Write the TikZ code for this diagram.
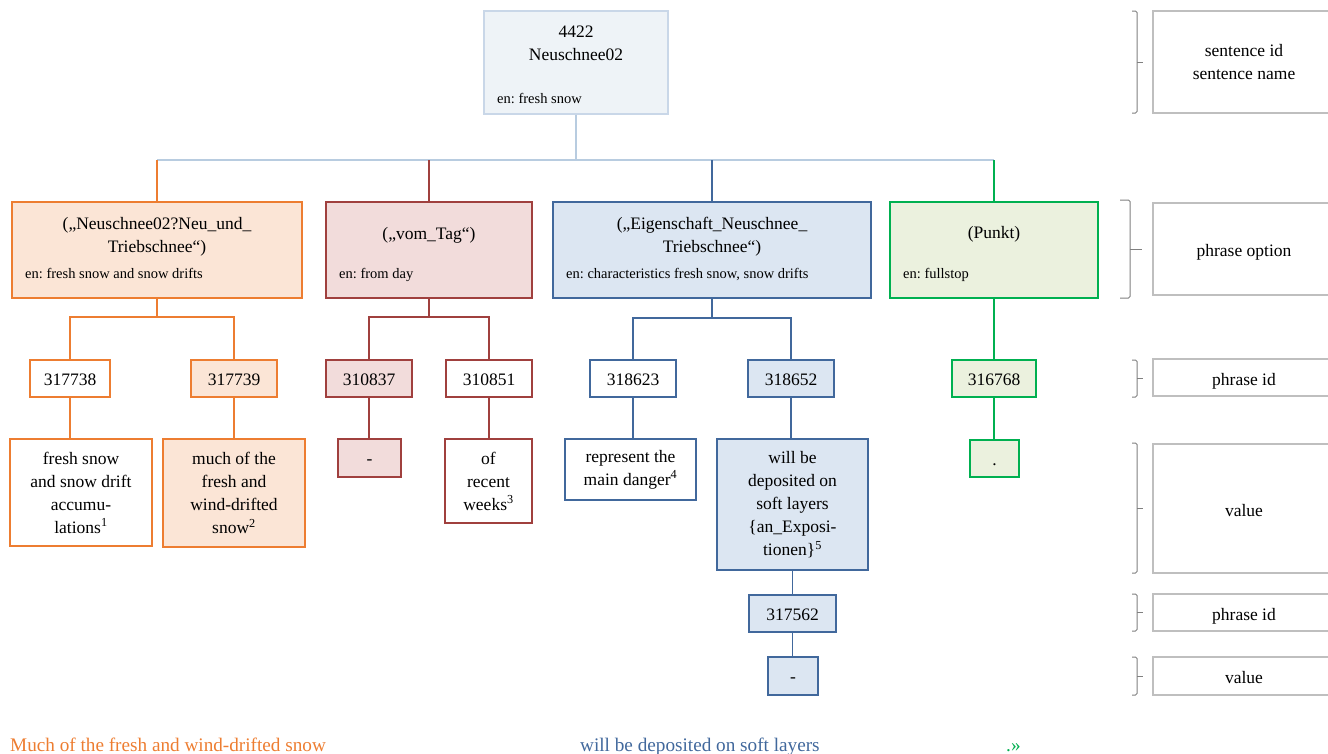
\documentclass[tikz,border=0pt]{standalone}
\usepackage{fontspec}
\setmainfont{Liberation Serif}
\definecolor{orB}{HTML}{ED7D31}
\definecolor{orF}{HTML}{FBE5D6}
\definecolor{rdB}{HTML}{A0403E}
\definecolor{rdF}{HTML}{F2DCDB}
\definecolor{blB}{HTML}{41689C}
\definecolor{blF}{HTML}{DCE6F2}
\definecolor{grB}{HTML}{00B050}
\definecolor{grF}{HTML}{EBF1DE}
\definecolor{tpB}{HTML}{C9D7E8}
\definecolor{tpF}{HTML}{EEF3F7}
\definecolor{tpL}{HTML}{B8CCE0}
\definecolor{lgB}{HTML}{BFBFBF}
\definecolor{brc}{HTML}{808080}
\newcommand\mybrace[5]{% x-hook, x-line, x-tick, ytop, ybottom
  \draw[bracestyle] (#1,#4) -- (#2,#4) -- (#2,#5) -- (#1,#5);
  \draw[bracestyle] (#2,{(#4+#5)/2}) -- (#3,{(#4+#5)/2});}
\begin{document}
\frenchspacing
\begin{tikzpicture}[x=1pt,y=-1pt,
  mainf/.style={font=\fontsize{17.5}{23}\selectfont},
  smallf/.style={font=\fontsize{14.5}{18}\selectfont},
  sz/.style 2 args={minimum width=#1, minimum height=#2},
  one/.style={text height=13pt, text depth=0pt},
  lone/.style={text height=15.5pt, text depth=0pt},
  bx/.style={draw, line width=1.8pt, inner sep=0pt, align=center, mainf},
  obox/.style={bx, draw=orB},
  ofill/.style={obox, fill=orF},
  rbox/.style={bx, draw=rdB},
  rfill/.style={rbox, fill=rdF},
  bbox/.style={bx, draw=blB},
  bfill/.style={bbox, fill=blF},
  gfill/.style={bx, draw=grB, fill=grF},
  topbox/.style={draw=tpB, fill=tpF, line width=1.5pt, inner sep=0pt},
  lgbox/.style={draw=lgB, line width=1.3pt, inner sep=0pt, align=center, mainf},
  ttl/.style={mainf, align=center, inner sep=0pt},
  entxt/.style={smallf, inner sep=0pt, anchor=base west},
  oline/.style={draw=orB, line width=1.4pt},
  rline/.style={draw=rdB, line width=1.4pt},
  bline/.style={draw=blB, line width=1.4pt},
  gline/.style={draw=grB, line width=1.4pt},
  tline/.style={draw=tpL, line width=1.4pt},
  bracestyle/.style={draw=brc, line width=1pt, rounded corners=1.5pt},
  foot/.style={font=\fontsize{19.2}{23}\selectfont, inner sep=0pt, anchor=base west}]
\useasboundingbox (0,0) rectangle (1328,753);

% sentence node
\node[topbox, sz={184}{103}] (s) at (576,62.5) {};
\node[ttl] (s1) at (576,43.5) {4422\\Neuschnee02};
\node[entxt] (s2) at (497,103) {en: fresh snow};

% phrase options
\node[ofill, sz={290}{96}] (po1) at (157,250) {};
\node[ttl] (po1t) at (157,236.5) {(„Neuschnee02?Neu\_und\_\\Triebschnee“)};
\node[entxt] (po1e) at (25,278) {en: fresh snow and snow drifts};

\node[rfill, sz={206}{96}] (po2) at (429,250) {};
\node[ttl, anchor=base] (po2t) at (429,239) {(„vom\_Tag“)};
\node[entxt] (po2e) at (339,278) {en: from day};

\node[bfill, sz={318}{96}] (po3) at (712,250) {};
\node[ttl] (po3t) at (712,236.5) {(„Eigenschaft\_Neuschnee\_\\Triebschnee“)};
\node[entxt] (po3e) at (566,278) {en: characteristics fresh snow, snow drifts};

\node[gfill, sz={208}{96}] (po4) at (994,250) {};
\node[ttl, anchor=base] (po4t) at (994,238.5) {(Punkt)};
\node[entxt] (po4e) at (903,278) {en: fullstop};

% phrase ids
\node[obox, one, fill=white, sz={80}{37}] (id1) at (70,378.5) {317738};
\node[ofill, one, sz={86}{37}] (id2) at (234,378.5) {317739};
\node[rfill, one, sz={86}{37}] (id3) at (369,378.5) {310837};
\node[rbox, one, fill=white, sz={86}{37}] (id4) at (489,378.5) {310851};
\node[bbox, one, fill=white, sz={86}{37}] (id5) at (633,378.5) {318623};
\node[bfill, one, sz={86}{37}] (id6) at (791,378.5) {318652};
\node[gfill, one, sz={84}{37}] (id7) at (994,378.5) {316768};
\node[bfill, one, sz={87}{37}] (id8) at (792.5,613.5) {317562};

% values
\node[obox, fill=white, sz={142}{107}] (v1) at (81,492.5) {fresh snow\\and snow drift\\accumu-\\lations\textsuperscript{1}};
\node[ofill, sz={142}{108}] (v2) at (234,493) {much of the\\fresh and\\wind-drifted\\snow\textsuperscript{2}};
\node[rfill, one, sz={63}{38}] (v3) at (369.5,458) {-};
\node[rbox, fill=white, sz={87}{84}] (v4) at (488.5,481) {of\\recent\\weeks\textsuperscript{3}};
\node[bbox, fill=white, sz={131}{61}] (v5) at (630.5,469.5) {represent the\\main danger\textsuperscript{4}};
\node[bfill, sz={151}{131}] (v6) at (792.5,504.5) {will be\\deposited on\\soft layers\\\{an\_Exposi-\\tionen\}\textsuperscript{5}};
\node[gfill, one, sz={49}{37}] (v7) at (994.5,458.5) {.};
\node[bfill, one, sz={50}{38}] (v8) at (793,676) {-};

% connectors: sentence -> options
\coordinate (j) at (576,160);
\draw[tline] (s.south) -- (j);
\draw[tline] (po1.north |- j) -- (po4.north |- j);
\draw[oline] (po1.north |- j) -- (po1.north);
\draw[rline] (po2.north |- j) -- (po2.north);
\draw[bline] (po3.north |- j) -- (po3.north);
\draw[gline] (po4.north |- j) -- (po4.north);

% options -> ids
\draw[oline] (po1.south) -- ++(0,18) -| (id1.north);
\draw[oline] (po1.south) -- ++(0,18) -| (id2.north);
\draw[rline] (po2.south) -- ++(0,18) -| (id3.north);
\draw[rline] (po2.south) -- ++(0,18) -| (id4.north);
\draw[bline] (po3.south) -- ++(0,19) -| (id5.north);
\draw[bline] (po3.south) -- ++(0,19) -| (id6.north);
\draw[gline] (po4.south) -- (po4.south |- id7.north);

% ids -> values
\draw[oline] (id1.south) -- (id1.south |- v1.north);
\draw[oline] (id2.south) -- (id2.south |- v2.north);
\draw[rline] (id3.south) -- (id3.south |- v3.north);
\draw[rline] (id4.south) -- (id4.south |- v4.north);
\draw[bline] (id5.south) -- (id5.south |- v5.north);
\draw[bline] (id6.south) -- (id6.south |- v6.north);
\draw[gline] (id7.south) -- (id7.south |- v7.north);
\draw[bline] (v6.south) -- (v6.south |- id8.north);
\draw[bline] (id8.south) -- (id8.south |- v8.north);

% legend
\node[lgbox, sz={182}{102}] (L1) at (1244,62) {sentence id\\sentence name};
\node[lgbox, lone, sz={182}{92}] (L2) at (1244,249) {phrase option};
\node[lgbox, lone, sz={182}{37}] (L3) at (1244,377.5) {phrase id};
\node[lgbox, lone, sz={182}{129}] (L4) at (1244,508.5) {value};
\node[lgbox, lone, sz={182}{37}] (L5) at (1244,612.5) {phrase id};
\node[lgbox, lone, sz={182}{38}] (L6) at (1244,676) {value};
\mybrace{1132}{1137}{1143}{11}{113}
\mybrace{1120}{1130}{1142}{200}{298}
\mybrace{1132}{1137}{1143}{360}{397}
\mybrace{1132}{1137}{1143}{443}{573}
\mybrace{1132}{1137}{1143}{594}{631}
\mybrace{1132}{1137}{1143}{657}{695}

% footer sentence
\node[foot, text=orB] (f1) at (10,751) {Much of the fresh and wind-drifted snow};
\node[foot, text=blB] (f2) at (580,751) {will be deposited on soft layers};
\node[foot, text=grB] (f3) at (1006,751) {.»};
\end{tikzpicture}
\end{document}
